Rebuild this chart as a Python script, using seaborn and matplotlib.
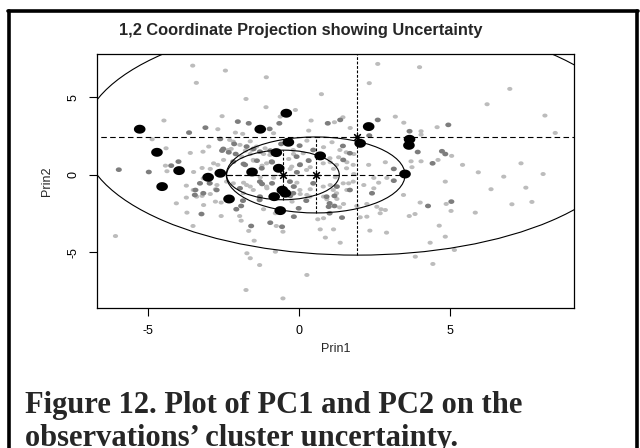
import numpy as np
import pandas as pd
import matplotlib
matplotlib.use("Agg")
import matplotlib.pyplot as plt
import seaborn as sns
from matplotlib.patches import Ellipse
from matplotlib.path import Path
from matplotlib.lines import Line2D

# ---- observations, grouped by classification uncertainty ----
low_pts = [
    (-3.51, 7.05), (-2.43, 6.73), (-3.39, 5.94), (-1.75, 4.90), (-2.54, 3.79), (-4.46, 3.51),
    (-2.68, 2.95), (-2.10, 2.73), (-1.86, 2.65), (-4.85, 2.30), (-2.29, 2.26), (-1.61, 2.17),
    (-4.39, 1.72), (-3.59, 1.42), (-3.17, 1.50), (-2.98, 1.83), (-2.24, 1.68), (-2.49, 0.97),
    (-2.82, 0.75), (-4.41, 0.60), (-4.36, 0.24), (-3.48, 0.19), (-3.20, 0.45), (-2.93, 0.39),
    (-1.50, 0.92), (-1.61, 1.35), (-1.77, 1.57),
    (2.60, 7.16), (-1.08, 6.30), (2.32, 5.92), (0.74, 5.21), (-1.09, 4.37), (-0.12, 4.19),
    (-0.62, 3.76), (0.40, 3.51), (1.17, 3.40), (1.45, 3.72), (-0.84, 2.69), (0.32, 2.86),
    (1.69, 3.03), (3.18, 3.76), (3.46, 3.37), (0.26, 2.21), (0.81, 1.79), (1.09, 2.11),
    (1.81, 1.35), (1.56, 1.46), (1.31, 1.14), (1.58, 0.82), (2.30, 0.65), (2.85, 0.82),
    (3.70, 0.88), (-1.17, 1.35), (-0.34, 1.03), (-0.18, 1.35), (0.04, 0.71), (1.03, 0.82),
    (-1.22, 0.60), (1.81, 0.06), (2.47, -0.19), (2.90, -0.19), (1.20, -0.15), (0.37, 0.50),
    (1.14, 0.39), (-0.29, 0.39), (-1.28, -0.15), (-0.84, -0.19), (3.73, 0.50),
    (3.98, 6.95), (6.96, 5.55), (6.21, 4.56), (8.12, 3.83), (4.56, 3.08), (4.03, 2.82),
    (4.03, 2.60), (8.46, 2.71), (5.04, 1.23), (4.03, 0.88), (4.59, 0.97), (5.40, 0.65),
    (5.92, 0.17), (6.76, -0.11), (7.33, 0.75), (8.06, 0.06), (4.83, -0.43),
    (6.34, -0.92), (7.49, -0.82), (4.00, -1.78), (4.86, -1.87), (5.02, -2.32), (5.82, -2.43),
    (7.03, -1.89), (7.69, -1.74), (4.63, -3.27), (4.83, -3.98), (4.33, -4.37), (5.13, -4.84),
    (4.42, -5.74), (3.64, -2.65), (3.83, -2.52), (2.89, -3.72), (2.34, -3.59), (3.45, -1.29),
    (-1.30, -5.81), (0.26, -6.45), (-0.53, -7.96), (-0.78, -4.95), (1.36, -4.37), (0.87, -4.04),
    (0.70, -3.51), (1.14, -3.51), (-0.53, -3.66), (-0.75, -3.29), (0.62, -2.86), (0.81, -2.79),
    (2.02, -2.73), (2.24, -2.69), (2.68, -2.47), (2.85, -2.26), (2.57, -2.05), (2.24, -1.87),
    (1.91, -2.00), (1.34, -2.09), (1.47, -1.87), (1.25, -1.55), (0.92, -1.57), (0.81, -1.40),
    (0.26, -1.29), (0.04, -1.23), (-0.23, -1.72), (0.37, -0.92), (-0.07, -0.50), (-0.78, -2.47),
    (-1.17, -2.21), (-1.06, -0.86), (2.14, -0.65), (2.47, -0.86), (2.63, -0.50), (2.71, -2.21),
    (3.84, -5.27), (1.58, -0.97), (1.64, -0.54), (1.03, -0.65),
    (-6.06, -3.94), (-3.72, -0.69), (-3.72, -1.46), (-4.05, -1.83), (-3.70, -2.43), (-3.15, -1.94),
    (-3.20, -1.35), (-2.93, -1.23), (-2.76, -0.92), (-2.71, -0.65), (-2.57, -1.78), (-2.76, -1.72),
    (-3.50, -3.29), (-2.57, -2.65), (-1.96, -2.65), (-1.91, -2.95), (-1.66, -3.61), (-1.48, -4.24),
    (-1.72, -5.05), (-1.61, -5.37), (-1.75, -7.42), (-1.83, -0.50), (-1.61, -0.75),
    (-2.33, 1.61), (-2.17, 2.15), (-1.95, 1.94), (-1.56, 1.61), (-1.40, 1.83), (-1.12, 1.72),
    (-0.96, 1.29), (-1.89, 1.18), (-1.51, 0.97), (-1.07, 0.75), (-0.19, 1.61), (0.14, 1.40),
    (0.31, 0.97), (-0.24, 0.54), (0.25, 0.32), (0.80, 0.75), (1.02, 1.08), (1.24, 0.65),
    (1.57, 0.43), (1.79, 0.65), (1.35, 1.61), (-2.68, 0.65), (-3.16, -0.22), (-3.49, -0.97),
    (-3.38, -1.40), (-2.94, -0.54), (-2.39, -0.43), (-2.17, -0.54), (-1.73, -0.65),
    (-1.51, -0.97), (-1.07, -0.75), (-0.19, -0.75), (0.03, -0.97), (0.80, -0.75), (1.13, -0.97),
    (1.46, -0.54), (1.79, -0.43), (-1.84, -1.18), (0.36, -1.40), (1.24, -1.18),
]

mid_pts = [
    (-2.02, 3.44), (-1.66, 3.33), (-3.09, 3.05), (-3.63, 2.73), (-2.60, 2.32), (-2.14, 2.00),
    (-2.54, 1.57), (-2.32, 1.46), (-2.09, 1.35), (-3.98, 0.86), (-4.22, 0.60), (-5.95, 0.34),
    (-4.96, 0.19), (-1.83, 0.71), (-1.50, 1.68),
    (0.95, 3.33), (1.36, 3.55), (-0.65, 3.33), (-0.97, 2.97), (2.60, 3.55), (3.65, 2.82),
    (2.32, 2.54), (-0.59, 2.00), (0.02, 1.89), (1.45, 1.87), (3.13, 0.39), (-0.95, 1.57),
    (0.32, 0.92), (-0.89, 0.82), (-0.07, 0.17), (-1.39, 0.92),
    (4.93, 3.23), (4.72, 1.53), (4.83, 1.35), (4.41, 0.75), (3.92, 1.48),
    (4.26, -2.00), (5.03, -1.72),
    (-0.56, -3.34), (-0.95, -3.08), (-0.17, -2.69), (1.01, -2.47), (1.42, -2.75), (0.98, -2.05),
    (1.17, -2.00), (1.17, -1.35), (1.01, -1.83), (0.24, -1.66), (-0.01, -2.15), (-0.29, -1.35),
    (-1.30, -1.61), (-0.17, -0.75), (-0.89, -0.54), (-1.22, -0.58), (2.41, -1.18), (3.13, -0.37),
    (1.25, -0.75),
    (-3.42, -0.97), (-3.44, -1.29), (-3.22, -2.52), (-2.95, -0.54), (-2.07, -2.21), (-1.91, -2.00),
    (-1.85, -1.66), (-1.58, -3.29),
    (-2.50, 1.68), (-1.73, 1.83), (-1.29, 1.50), (-2.17, 0.86), (-1.78, 0.65), (-1.23, 0.43),
    (-0.90, 0.86), (-0.08, 1.18), (0.47, 1.61), (0.03, 0.65), (1.46, 0.97), (1.68, 1.40),
    (-3.27, -0.54), (-3.16, -1.18), (-2.72, -0.97), (-1.95, -0.86), (-1.29, -0.43), (-0.30, -0.43),
    (0.47, -0.54), (1.68, -0.97), (-1.29, -1.40), (-0.19, -1.18), (0.91, -1.40),
]

high_pts = [
    (-5.26, 2.95), (-4.69, 1.46), (-3.96, 0.28), (-3.00, -0.15), (-2.60, 0.11), (-1.55, 0.19),
    (-1.28, 2.95), (-0.42, 3.98), (-0.35, 2.11), (-0.75, 1.44), (0.70, 1.23), (-0.67, 0.43),
    (2.30, 3.12), (2.02, 2.04), (3.65, 2.30), (3.63, 1.91), (3.50, 0.06), (-4.52, -0.75),
    (-2.31, -1.55), (-0.55, -0.98), (-0.45, -1.18), (-0.82, -1.40), (-0.62, -2.30),
]

# ---- fitted mixture components: means and ellipse semi-axes ----
comp_mean_x = [-0.53, 0.55, 1.93]
comp_mean_y = [0.00, 0.00, 2.43]
comp_semi_x = [1.86, 2.95, 9.07]
comp_semi_y = [1.60, 2.45, 7.60]

x_ticks = [-5, 0, 5]
y_ticks = [-5, 0, 5]

levels = ["low", "mid", "high"]
frames = []
for lev, pts in zip(levels, [low_pts, mid_pts, high_pts]):
    arr = np.array(pts)
    frames.append(pd.DataFrame({"Prin1": arr[:, 0], "Prin2": arr[:, 1], "level": lev}))
df = pd.concat(frames, ignore_index=True)

sns.set_style("white")
plt.rcParams["font.family"] = ["Liberation Sans", "DejaVu Sans"]

fig = plt.figure(figsize=(6.4, 4.48), dpi=100)
ax = fig.add_axes([97 / 640, 1 - 308 / 448, 477 / 640, 254 / 448])

# slightly wide dot marker
t = np.linspace(0, 2 * np.pi, 40)
dot = Path(np.column_stack([1.3 * np.cos(t), np.sin(t)]), closed=True)

sns.scatterplot(
    data=df, x="Prin1", y="Prin2", hue="level", size="level",
    palette={"low": "#bcbcbc", "mid": "#7d7d7d", "high": "#000000"},
    sizes={"low": 14, "mid": 19, "high": 70},
    marker=dot, linewidth=0, legend=False, ax=ax, zorder=2,
)

for mx, my, sx, sy in zip(comp_mean_x, comp_mean_y, comp_semi_x, comp_semi_y):
    ax.add_patch(Ellipse((mx, my), 2 * sx, 2 * sy, fill=False, ec="black", lw=0.8, zorder=3))
    ax.plot([mx - sx, mx + sx], [my, my], color="black", lw=0.8,
            dashes=(5, 3), zorder=3)
    ax.plot([mx, mx], [my - sy, my + sy], color="black", lw=0.8,
            dashes=(2.5, 1.5), zorder=3)
ax.scatter(comp_mean_x, comp_mean_y, marker=(8, 2, 0), s=40, c="black",
           linewidths=0.8, zorder=4)

ax.set_xlim(-6.67, 9.08)
ax.set_ylim(-8.58, 7.80)
ax.set_xticks(x_ticks)
ax.set_yticks(y_ticks)
ax.set_xticklabels([str(v) for v in x_ticks])
ax.set_yticklabels([str(v) for v in y_ticks], rotation=90, va="center")
ax.tick_params(axis="both", direction="out", length=5.5, width=0.8,
               color="black", labelsize=9, labelcolor="black", bottom=True, left=True)
ax.tick_params(axis="x", pad=7)
ax.tick_params(axis="y", pad=7)
for sp in ax.spines.values():
    sp.set_color("black")
    sp.set_linewidth(0.9)

ax.set_xlabel("Prin1", fontsize=9)
ax.set_ylabel("Prin2", fontsize=9)
ax.xaxis.set_label_coords(0.5, -0.138)
ax.yaxis.set_label_coords(-0.092, 0.5)

fig.text(301 / 640, 1 - 30 / 448, "1,2 Coordinate Projection showing Uncertainty",
         ha="center", va="center", fontsize=11.8, fontweight="bold")

cap_font = ["Liberation Serif", "DejaVu Serif"]
fig.text(25 / 640, 1 - 405 / 448, "Figure 12. Plot of PC1 and PC2 on the",
         ha="left", va="center", fontsize=22, fontweight="bold", family=cap_font)
fig.text(25 / 640, 1 - 438 / 448, "observations\u2019 cluster uncertainty.",
         ha="left", va="center", fontsize=22, fontweight="bold", family=cap_font)

# frame around the figure panel
bw = 2.6
fig.add_artist(Line2D([8 / 640, 638 / 640], [1 - 11 / 448, 1 - 11 / 448],
                      color="black", lw=bw, transform=fig.transFigure))
fig.add_artist(Line2D([9 / 640, 9 / 640], [0, 1 - 11 / 448],
                      color="black", lw=bw, transform=fig.transFigure))
fig.add_artist(Line2D([637 / 640, 637 / 640], [0, 1 - 11 / 448],
                      color="black", lw=bw, transform=fig.transFigure))

fig.savefig("out.png", dpi=100, facecolor="white")
